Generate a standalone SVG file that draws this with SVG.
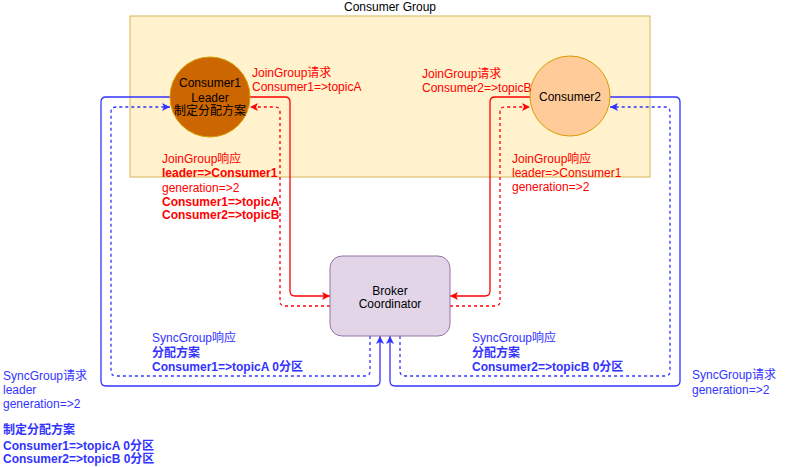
<svg xmlns="http://www.w3.org/2000/svg" width="791" height="467" viewBox="0 0 791 467">
<style>
text{font-family:"Liberation Sans","Noto Sans CJK SC",sans-serif;font-size:12px}
.r{fill:#ff0000}
.b{fill:#3333ff}
.k{fill:#000}
.bd{font-weight:bold}
.m{text-anchor:middle}
.ln{fill:none;stroke-width:1.3}
.red{stroke:#ff0000}
.blue{stroke:#3333ff}
.dash{stroke-dasharray:3 3}
</style>
<defs>
<marker id="ar" markerUnits="userSpaceOnUse" markerWidth="10" markerHeight="10" refX="8" refY="4" orient="auto" overflow="visible">
<path d="M0,0 L8,4 L0,8 L2,4 z" fill="#ff0000"/>
</marker>
<marker id="ab" markerUnits="userSpaceOnUse" markerWidth="10" markerHeight="10" refX="8" refY="4" orient="auto" overflow="visible">
<path d="M0,0 L8,4 L0,8 L2,4 z" fill="#3333ff"/>
</marker>
</defs>
<rect width="791" height="467" fill="#fff"/>
<g id="group">
<rect x="130" y="16" width="520" height="161" fill="#fff2cc" stroke="#d6b656"/>
<text class="k m" x="390" y="11">Consumer Group</text>
</g>
<g id="connectors">
<path class="ln red" d="M250,97 H285 Q290,97 290,102 V291 Q290,296 295,296 H330" marker-end="url(#ar)"/>
<path class="ln red dash" d="M330,306 H285 Q280,306 280,301 V112 Q280,107 275,107 H250" marker-end="url(#ar)"/>
<path class="ln red" d="M530,97 H495 Q490,97 490,102 V291 Q490,296 485,296 H450" marker-end="url(#ar)"/>
<path class="ln red dash" d="M450,306 H495 Q500,306 500,301 V112 Q500,107 505,107 H530" marker-end="url(#ar)"/>
<path class="ln blue" d="M170,97 H106 Q101,97 101,102 V381 Q101,386 106,386 H375 Q380,386 380,381 V336" marker-end="url(#ab)"/>
<path class="ln blue dash" d="M370,336 V371 Q370,376 365,376 H116 Q111,376 111,371 V112 Q111,107 116,107 H170" marker-end="url(#ab)"/>
<path class="ln blue" d="M610,97 H675 Q680,97 680,102 V381 Q680,386 675,386 H395 Q390,386 390,381 V336" marker-end="url(#ab)"/>
<path class="ln blue dash" d="M400,336 V371 Q400,376 405,376 H665 Q670,376 670,371 V112 Q670,107 665,107 H610" marker-end="url(#ab)"/>
</g>
<g id="consumer1">
<circle cx="210" cy="97" r="40" fill="#cc6600" stroke="#d79b00"/>
<text class="k m" x="210" y="87">Consumer1</text>
<text class="k m" x="210" y="101.5">Leader</text>
<text class="k m" x="210" y="115">制定分配方案</text>
</g>
<g id="consumer2">
<circle cx="570" cy="96" r="40" fill="#ffcc99" stroke="#d79b00"/>
<text class="k m" x="570" y="100.5">Consumer2</text>
</g>
<g id="broker">
<rect x="330" y="256" width="120" height="80" rx="12" fill="#e1d5e7" stroke="#9673a6"/>
<text class="k m" x="390" y="294.5">Broker</text>
<text class="k m" x="390" y="308">Coordinator</text>
</g>
<g id="labels">
<text class="r" x="252" y="77">JoinGroup请求</text>
<text class="r" x="252" y="91">Consumer1=&gt;topicA</text>
<text class="r" x="422" y="77.5">JoinGroup请求</text>
<text class="r" x="422" y="91.5">Consumer2=&gt;topicB</text>
<text class="r" x="162" y="162.5">JoinGroup响应</text>
<text class="r bd" x="162" y="177">leader=&gt;Consumer1</text>
<text class="r" x="162" y="191.5">generation=&gt;2</text>
<text class="r bd" x="162" y="205.5">Consumer1=&gt;topicA</text>
<text class="r bd" x="162" y="219">Consumer2=&gt;topicB</text>
<text class="r" x="512" y="162.5">JoinGroup响应</text>
<text class="r" x="512" y="176.5">leader=&gt;Consumer1</text>
<text class="r" x="512" y="190.5">generation=&gt;2</text>
<text class="b" x="152" y="342">SyncGroup响应</text>
<text class="b bd" x="152" y="357">分配方案</text>
<text class="b bd" x="152" y="370.5">Consumer1=&gt;topicA 0分区</text>
<text class="b" x="472" y="342">SyncGroup响应</text>
<text class="b bd" x="472" y="357">分配方案</text>
<text class="b bd" x="472" y="370.5">Consumer2=&gt;topicB 0分区</text>
<text class="b" x="692" y="378.5">SyncGroup请求</text>
<text class="b" x="692" y="393.5">generation=&gt;2</text>
<text class="b" x="3" y="379.5">SyncGroup请求</text>
<text class="b" x="3" y="393.5">leader</text>
<text class="b" x="3" y="407.5">generation=&gt;2</text>
<text class="b bd" x="3" y="434">制定分配方案</text>
<text class="b bd" x="3" y="449.5">Consumer1=&gt;topicA 0分区</text>
<text class="b bd" x="3" y="463">Consumer2=&gt;topicB 0分区</text>
</g>
</svg>
